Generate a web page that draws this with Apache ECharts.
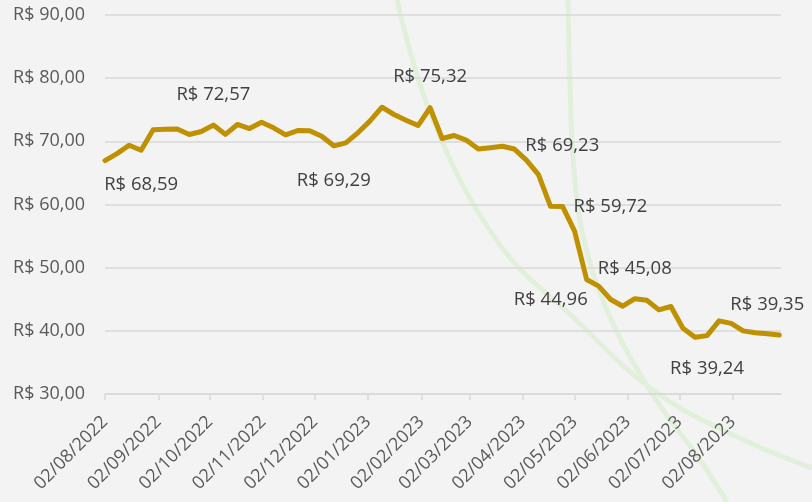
<!DOCTYPE html>
<html>
<head>
<meta charset="utf-8">
<script src="https://cdn.jsdelivr.net/npm/echarts@6/dist/echarts.min.js"></script>
<style>
  html, body { margin: 0; padding: 0; background: #f3f3f3; }
  #main { width: 812px; height: 502px; }
</style>
</head>
<body>
<div id="main"></div>
<script>
// cotações semanais (dd/mm/aaaa)
var dates = [
  '02/08/2022','09/08/2022','16/08/2022','23/08/2022','30/08/2022',
  '06/09/2022','13/09/2022','20/09/2022','27/09/2022',
  '04/10/2022','11/10/2022','18/10/2022','25/10/2022',
  '01/11/2022','08/11/2022','15/11/2022','22/11/2022','29/11/2022',
  '06/12/2022','13/12/2022','20/12/2022','27/12/2022',
  '03/01/2023','10/01/2023','17/01/2023','24/01/2023','31/01/2023',
  '07/02/2023','14/02/2023','21/02/2023','28/02/2023',
  '07/03/2023','14/03/2023','21/03/2023','28/03/2023',
  '04/04/2023','11/04/2023','18/04/2023','25/04/2023',
  '02/05/2023','09/05/2023','16/05/2023','23/05/2023','30/05/2023',
  '06/06/2023','13/06/2023','20/06/2023','27/06/2023',
  '04/07/2023','11/07/2023','18/07/2023','25/07/2023',
  '01/08/2023','08/08/2023','15/08/2023','22/08/2023','29/08/2023'
]
var prices = [
  66.95, 68.06, 69.38, 68.59, 71.85,
  71.90, 71.95, 71.08, 71.55,
  72.57, 71.10, 72.67, 72.03,
  73.03, 72.14, 71.03, 71.71, 71.67,
  70.81, 69.29, 69.76, 71.35,
  73.20, 75.40, 74.25, 73.35, 72.50,
  75.32, 70.45, 70.92, 70.20,
  68.80, 69.00, 69.23, 68.78,
  67.02, 64.73, 59.72, 59.70,
  55.80, 48.13, 47.07, 44.96, 43.90,
  45.08, 44.83, 43.32, 43.85,
  40.42, 38.97, 39.24, 41.58,
  41.18, 39.99, 39.70, 39.55, 39.35
]
// pontos com rótulo (índices em prices)
var labelled = [3, 9, 19, 27, 33, 37, 42, 44, 50, 56]
var tickDates = [
  '02/08/2022','02/09/2022','02/10/2022','02/11/2022','02/12/2022',
  '02/01/2023','02/02/2023','02/03/2023','02/04/2023','02/05/2023',
  '02/06/2023','02/07/2023','02/08/2023'
]
var yTicks = [30, 40, 50, 60, 70, 80, 90]

// posição de cada rótulo
var labelPos = {
  3: { position: 'bottom', distance: 24 },
  9: { position: 'top', distance: 20 },
  19: { position: 'bottom', distance: 24 },
  27: { position: 'top', distance: 20 },
  33: { position: 'right', distance: 22 },
  37: { position: 'right', distance: 22 },
  42: { position: 'left', distance: 22 },
  44: { position: 'top', distance: 20 },
  50: { position: 'bottom', distance: 23 },
  56: { position: 'top', distance: 20, offset: [-12, 0] }
}

function toTime(s) {
  var p = s.split('/')
  return new Date(+p[2], +p[1] - 1, +p[0]).getTime()
}
function pad(n) { return n < 10 ? '0' + n : '' + n }
function fmtDate(v) {
  var d = new Date(v)
  return pad(d.getDate()) + '/' + pad(d.getMonth() + 1) + '/' + d.getFullYear()
}
function brl(v) { return 'R$ ' + v.toFixed(2).replace('.', ',') }

var seriesData = prices.map(function (v, i) {
  var item = { value: [toTime(dates[i]), v] }
  if (labelled.indexOf(i) >= 0) {
    var lp = labelPos[i]
    item.label = {
      show: true,
      position: lp.position,
      distance: lp.distance,
      offset: lp.offset || [0, 0]
    }
  }
  return item
})

var font = '"Open Sans", "DejaVu Sans", sans-serif'
var chart = echarts.init(document.getElementById('main'))
var option = {
  backgroundColor: '#f3f3f3',
  animation: false,
  // traços decorativos do fundo
  graphic: [
    {
      type: 'polyline', silent: true, z: -10,
      shape: { points: [[397, 0], [433, 120], [500, 245], [573, 317], [653, 390], [733, 435], [812, 468]], smooth: 0.4 },
      style: { stroke: '#e2f0db', lineWidth: 5, fill: null }
    },
    {
      type: 'polyline', silent: true, z: -10,
      shape: { points: [[568, 0], [570, 83], [574, 170], [584, 240], [610, 317], [655, 398], [700, 460], [727, 502]], smooth: 0.4 },
      style: { stroke: '#e2f0db', lineWidth: 5, fill: null }
    }
  ],
  grid: { left: 105, right: 31, top: 15, bottom: 108 },
  xAxis: {
    type: 'value',
    min: toTime('02/08/2022'),
    max: toTime('30/08/2023'),
    axisLine: { lineStyle: { color: '#d9d9d9', width: 1.5 } },
    axisTick: {
      show: true, length: 6, inside: false,
      lineStyle: { color: '#d9d9d9', width: 1.5 },
      customValues: tickDates.map(toTime)
    },
    splitLine: { show: false },
    axisLabel: {
      customValues: tickDates.map(toTime),
      rotate: 45,
      margin: 25,
      color: '#595959',
      fontSize: 18,
      fontFamily: font,
      formatter: fmtDate,
      hideOverlap: false
    }
  },
  yAxis: {
    type: 'value',
    min: yTicks[0],
    max: yTicks[yTicks.length - 1],
    interval: 10,
    axisLine: { show: false },
    axisTick: { show: false },
    splitLine: { lineStyle: { color: '#d9d9d9', width: 1.5 } },
    axisLabel: {
      margin: 20,
      color: '#595959',
      fontSize: 18,
      fontFamily: font,
      formatter: function (v) { return brl(v) }
    }
  },
  series: [
    {
      type: 'line',
      data: seriesData,
      symbol: 'circle',
      symbolSize: 2,
      showAllSymbol: true,
      itemStyle: { color: '#bf9000' },
      lineStyle: { color: '#bf9000', width: 5, cap: 'round', join: 'round' },
      label: {
        show: false,
        color: '#404040',
        fontSize: 18.5,
        fontFamily: font,
        formatter: function (p) { return brl(p.value[1]) }
      },
      emphasis: { disabled: true }
    }
  ]
}
chart.setOption(option)
</script>
</body>
</html>
